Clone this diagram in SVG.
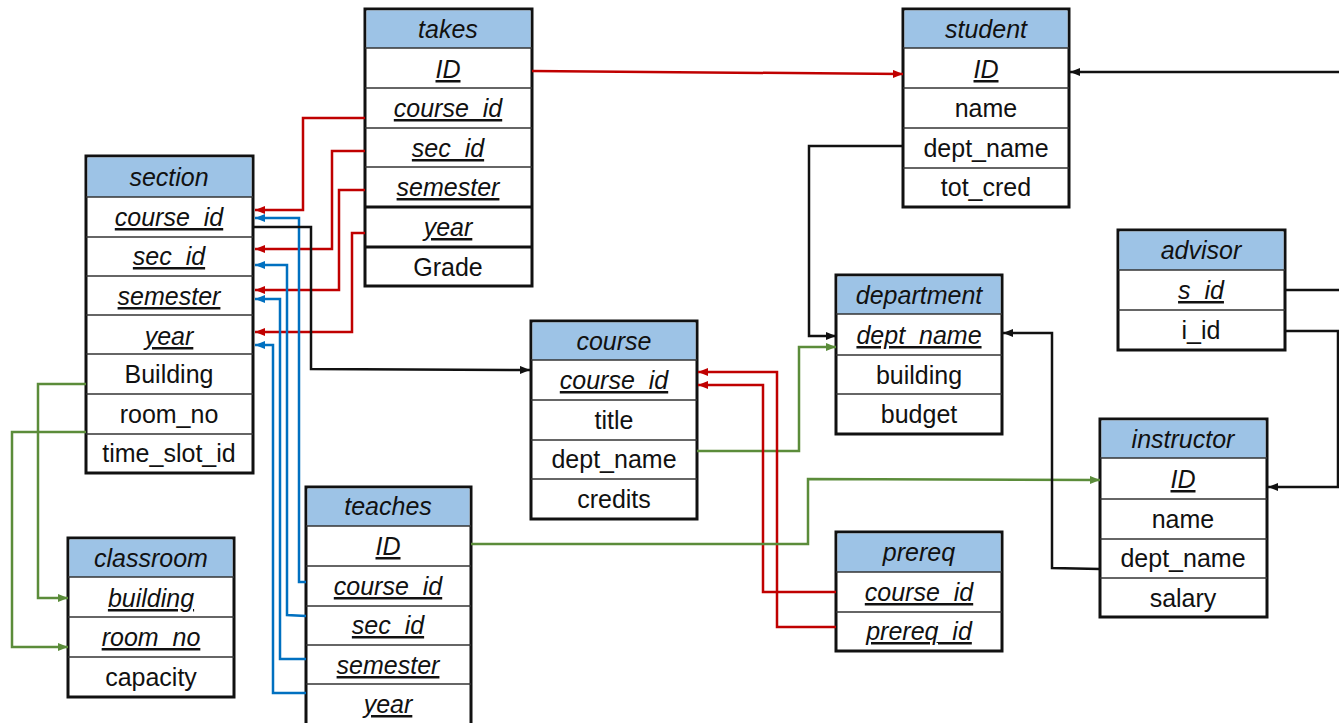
<svg xmlns="http://www.w3.org/2000/svg" width="1339" height="723" viewBox="0 0 1339 723">
<style>
.box{fill:#fff;stroke:#111;stroke-width:3}
.hdr{fill:#9DC3E6}
.sep{stroke:#333;stroke-width:1.5}
.sepk{stroke:#111;stroke-width:3}
text{font-family:"Liberation Sans",Arial,sans-serif;font-size:25px;fill:#111;text-anchor:middle}
.t{font-style:italic}
.k{font-style:italic;text-decoration:underline}
.r{fill:none;stroke:#C00000;stroke-width:2.5}
.b{fill:none;stroke:#0070C0;stroke-width:2.5}
.g{fill:none;stroke:#5B8C3A;stroke-width:2.5}
.n{fill:none;stroke:#111;stroke-width:2.5}
</style>
<defs>
<marker id="ar" markerUnits="userSpaceOnUse" markerWidth="10" markerHeight="8" refX="10" refY="4" orient="auto"><path d="M0,0 L10,4 L0,8 z" fill="#C00000"/></marker>
<marker id="ab" markerUnits="userSpaceOnUse" markerWidth="10" markerHeight="8" refX="10" refY="4" orient="auto"><path d="M0,0 L10,4 L0,8 z" fill="#0070C0"/></marker>
<marker id="ag" markerUnits="userSpaceOnUse" markerWidth="10" markerHeight="8" refX="10" refY="4" orient="auto"><path d="M0,0 L10,4 L0,8 z" fill="#5B8C3A"/></marker>
<marker id="an" markerUnits="userSpaceOnUse" markerWidth="10" markerHeight="8" refX="10" refY="4" orient="auto"><path d="M0,0 L10,4 L0,8 z" fill="#111"/></marker>
</defs>

<g id="takes">
<rect class="box" x="365" y="9" width="167" height="277"/>
<rect class="hdr" x="366.5" y="10.5" width="164" height="37.5"/>
<line class="sep" x1="365" y1="48" x2="532" y2="48"/>
<line class="sep" x1="365" y1="88" x2="532" y2="88"/>
<line class="sep" x1="365" y1="128" x2="532" y2="128"/>
<line class="sep" x1="365" y1="167" x2="532" y2="167"/>
<line class="sepk" x1="365" y1="207" x2="532" y2="207"/>
<line class="sepk" x1="365" y1="247" x2="532" y2="247"/>
<text class="t" x="448" y="38">takes</text>
<text class="k" x="448" y="78">ID</text>
<text class="k" x="448" y="117">course_id</text>
<text class="k" x="448" y="157">sec_id</text>
<text class="k" x="448" y="196">semester</text>
<text class="k" x="448" y="236">year</text>
<text x="448" y="276">Grade</text>
</g>

<g id="section">
<rect class="box" x="86" y="156" width="167" height="317"/>
<rect class="hdr" x="87.5" y="157.5" width="164" height="39.5"/>
<line class="sep" x1="86" y1="197" x2="253" y2="197"/>
<line class="sep" x1="86" y1="237" x2="253" y2="237"/>
<line class="sep" x1="86" y1="276" x2="253" y2="276"/>
<line class="sep" x1="86" y1="315" x2="253" y2="315"/>
<line class="sep" x1="86" y1="354" x2="253" y2="354"/>
<line class="sep" x1="86" y1="394" x2="253" y2="394"/>
<line class="sep" x1="86" y1="434" x2="253" y2="434"/>
<text class="t" x="169" y="186">section</text>
<text class="k" x="169" y="226">course_id</text>
<text class="k" x="169" y="265">sec_id</text>
<text class="k" x="169" y="305">semester</text>
<text class="k" x="169" y="345">year</text>
<text x="169" y="383">Building</text>
<text x="169" y="423">room_no</text>
<text x="169" y="462">time_slot_id</text>
</g>

<g id="classroom">
<rect class="box" x="68" y="538" width="166" height="159"/>
<rect class="hdr" x="69.5" y="539.5" width="163" height="37.5"/>
<line class="sep" x1="68" y1="577" x2="234" y2="577"/>
<line class="sep" x1="68" y1="617" x2="234" y2="617"/>
<line class="sep" x1="68" y1="657" x2="234" y2="657"/>
<text class="t" x="151" y="567">classroom</text>
<text class="k" x="151" y="607">building</text>
<text class="k" x="151" y="646">room_no</text>
<text x="151" y="686">capacity</text>
</g>

<g id="teaches">
<rect class="box" x="306" y="487" width="165" height="240"/>
<rect class="hdr" x="307.5" y="488.5" width="162" height="37.5"/>
<line class="sep" x1="306" y1="526" x2="471" y2="526"/>
<line class="sep" x1="306" y1="566" x2="471" y2="566"/>
<line class="sep" x1="306" y1="606" x2="471" y2="606"/>
<line class="sep" x1="306" y1="645" x2="471" y2="645"/>
<line class="sep" x1="306" y1="684" x2="471" y2="684"/>
<text class="t" x="388" y="515">teaches</text>
<text class="k" x="388" y="555">ID</text>
<text class="k" x="388" y="595">course_id</text>
<text class="k" x="388" y="634">sec_id</text>
<text class="k" x="388" y="674">semester</text>
<text class="k" x="388" y="713">year</text>
</g>

<g id="course">
<rect class="box" x="531" y="321" width="166" height="198"/>
<rect class="hdr" x="532.5" y="322.5" width="163" height="37.5"/>
<line class="sep" x1="531" y1="360" x2="697" y2="360"/>
<line class="sep" x1="531" y1="400" x2="697" y2="400"/>
<line class="sep" x1="531" y1="440" x2="697" y2="440"/>
<line class="sep" x1="531" y1="479" x2="697" y2="479"/>
<text class="t" x="614" y="350">course</text>
<text class="k" x="614" y="389">course_id</text>
<text x="614" y="429">title</text>
<text x="614" y="468">dept_name</text>
<text x="614" y="508">credits</text>
</g>

<g id="student">
<rect class="box" x="903" y="9" width="166" height="198"/>
<rect class="hdr" x="904.5" y="10.5" width="163" height="37.5"/>
<line class="sep" x1="903" y1="48" x2="1069" y2="48"/>
<line class="sep" x1="903" y1="88" x2="1069" y2="88"/>
<line class="sep" x1="903" y1="128" x2="1069" y2="128"/>
<line class="sep" x1="903" y1="168" x2="1069" y2="168"/>
<text class="t" x="986" y="38">student</text>
<text class="k" x="986" y="78">ID</text>
<text x="986" y="117">name</text>
<text x="986" y="157">dept_name</text>
<text x="986" y="196">tot_cred</text>
</g>

<g id="department">
<rect class="box" x="836" y="275" width="166" height="159"/>
<rect class="hdr" x="837.5" y="276.5" width="163" height="37.5"/>
<line class="sep" x1="836" y1="314" x2="1002" y2="314"/>
<line class="sep" x1="836" y1="355" x2="1002" y2="355"/>
<line class="sep" x1="836" y1="394" x2="1002" y2="394"/>
<text class="t" x="919" y="304">department</text>
<text class="k" x="919" y="344">dept_name</text>
<text x="919" y="384">building</text>
<text x="919" y="423">budget</text>
</g>

<g id="prereq">
<rect class="box" x="836" y="532" width="166" height="119"/>
<rect class="hdr" x="837.5" y="533.5" width="163" height="38.5"/>
<line class="sep" x1="836" y1="572" x2="1002" y2="572"/>
<line class="sep" x1="836" y1="612" x2="1002" y2="612"/>
<text class="t" x="919" y="561">prereq</text>
<text class="k" x="919" y="601">course_id</text>
<text class="k" x="919" y="640">prereq_id</text>
</g>

<g id="advisor">
<rect class="box" x="1118" y="230" width="167" height="120"/>
<rect class="hdr" x="1119.5" y="231.5" width="164" height="38.5"/>
<line class="sep" x1="1118" y1="270" x2="1285" y2="270"/>
<line class="sep" x1="1118" y1="310" x2="1285" y2="310"/>
<text class="t" x="1201" y="259">advisor</text>
<text class="k" x="1201" y="299">s_id</text>
<text x="1201" y="339">i_id</text>
</g>

<g id="instructor">
<rect class="box" x="1100" y="419" width="167" height="198"/>
<rect class="hdr" x="1101.5" y="420.5" width="164" height="37.5"/>
<line class="sep" x1="1100" y1="458" x2="1267" y2="458"/>
<line class="sep" x1="1100" y1="499" x2="1267" y2="499"/>
<line class="sep" x1="1100" y1="539" x2="1267" y2="539"/>
<line class="sep" x1="1100" y1="578" x2="1267" y2="578"/>
<text class="t" x="1183" y="448">instructor</text>
<text class="k" x="1183" y="488">ID</text>
<text x="1183" y="528">name</text>
<text x="1183" y="567">dept_name</text>
<text x="1183" y="607">salary</text>
</g>

<g id="connectors">
<polyline class="r" points="365,118 303,118 303,210 255,210" marker-end="url(#ar)"/>
<polyline class="r" points="365,151 332,151 332,249 255,249" marker-end="url(#ar)"/>
<polyline class="r" points="365,190 339,190 339,290 255,290" marker-end="url(#ar)"/>
<polyline class="r" points="365,233 352,233 352,332 255,332" marker-end="url(#ar)"/>
<polyline class="b" points="306,582 299,582 299,218 255,218" marker-end="url(#ab)"/>
<polyline class="b" points="306,616 287,615 287,265 255,265" marker-end="url(#ab)"/>
<polyline class="b" points="306,659 280,659 280,299 255,299" marker-end="url(#ab)"/>
<polyline class="b" points="306,693 273,693 273,345 255,345" marker-end="url(#ab)"/>
<polyline class="n" points="253,227 311,227 311,369 530,370" marker-end="url(#an)"/>
<polyline class="g" points="86,384 38,384 38,598 68,598" marker-end="url(#ag)"/>
<polyline class="g" points="86,432 12,432 12,647 68,647" marker-end="url(#ag)"/>
<polyline class="r" points="532,71 903,74" marker-end="url(#ar)"/>
<polyline class="n" points="1339,72 1070,72" marker-end="url(#an)"/>
<polyline class="n" points="903,146 809,146 809,336 836,336" marker-end="url(#an)"/>
<polyline class="g" points="697,451 799,451 799,347 836,347" marker-end="url(#ag)"/>
<polyline class="r" points="836,592 763,592 763,385 698,385" marker-end="url(#ar)"/>
<polyline class="r" points="836,627 777,627 777,372 698,372" marker-end="url(#ar)"/>
<polyline class="g" points="471,544 808,544 808,479 1100,480" marker-end="url(#ag)"/>
<polyline class="n" points="1100,569 1052,568 1052,333 1003,333" marker-end="url(#an)"/>
<polyline class="n" points="1285,290 1339,290"/>
<polyline class="n" points="1285,331 1338,331 1338,487 1268,487" marker-end="url(#an)"/>
</g>
</svg>
